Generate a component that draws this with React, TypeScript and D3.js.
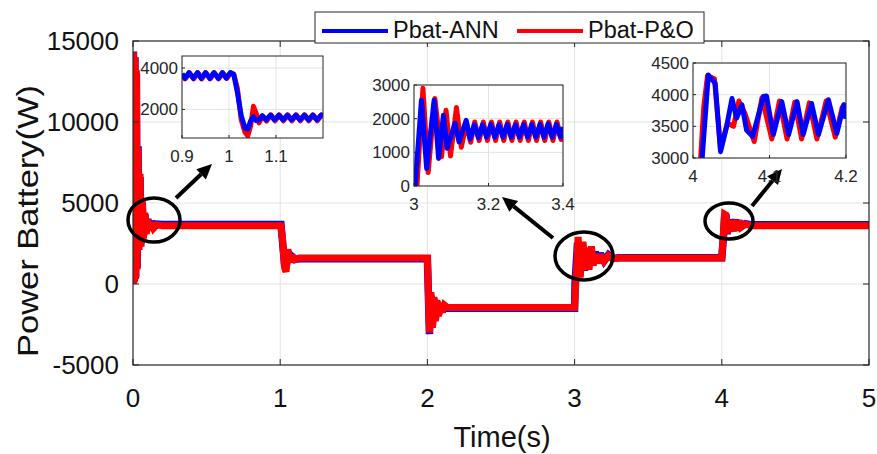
import React from 'react';
import * as d3 from 'd3';

type Pt = [number, number];

// ---------- data ----------
const xTicks = [0, 1, 2, 3, 4, 5];
const yTicks = [-5000, 0, 5000, 10000, 15000];
const seriesNames = ['Pbat-ANN', 'Pbat-P&O'];

const mainPO: Pt[] = [
  [0, 0], [0.003, 14300], [0.008, 100], [0.013, 14000], [0.018, 300], [0.023, 13200], [0.028, 900],
  [0.034, 8400], [0.041, 2100], [0.048, 6800], [0.055, 2300], [0.063, 5200], [0.071, 2800], [0.08, 4400],
  [0.09, 3100], [0.1, 4000], [0.112, 3300], [0.125, 3800], [0.14, 3450], [0.16, 3650], [0.2, 3600],
  [1.005, 3600], [1.015, 2800], [1.03, 1000], [1.04, 750], [1.052, 2150], [1.064, 1350], [1.08, 1750],
  [1.1, 1500], [1.13, 1600], [2.0, 1600], [2.006, -300], [2.014, -3000], [2.024, -500], [2.034, -2700],
  [2.044, -800], [2.054, -2300], [2.064, -1000], [2.075, -2000], [2.087, -1150], [2.1, -1750], [2.115, -1300],
  [2.135, -1450], [3.0, -1450], [3.008, 0], [3.024, 2900], [3.038, 400], [3.056, 2600], [3.074, 870],
  [3.086, 2250], [3.098, 890], [3.114, 2330], [3.127, 1150], [3.14, 1850], [3.155, 1300], [3.175, 1800],
  [3.2, 1400], [3.23, 1750], [3.26, 1550], [3.3, 1600], [4.0, 1600], [4.01, 3000], [4.019, 4300],
  [4.028, 4250], [4.036, 3150], [4.06, 3900], [4.08, 3260], [4.09, 3950], [4.103, 3300], [4.113, 3900],
  [4.13, 3500], [4.16, 3700], [4.2, 3600], [5.0, 3600],
];

const mainANN: Pt[] = [
  [0, 0], [0.003, 14350], [0.008, 150], [0.013, 14000], [0.018, 400], [0.023, 13000], [0.028, 1000],
  [0.034, 8500], [0.041, 2300], [0.048, 6600], [0.055, 2500], [0.063, 5000], [0.071, 3000], [0.08, 4300],
  [0.09, 3300], [0.1, 4000], [0.112, 3400], [0.125, 3850], [0.14, 3550], [0.16, 3700], [0.2, 3680],
  [1.005, 3680], [1.015, 2700], [1.03, 1200], [1.04, 1050], [1.052, 1650], [1.064, 1450], [1.08, 1700],
  [1.1, 1520], [1.13, 1560], [2.0, 1560], [2.006, -400], [2.014, -3100], [2.024, -700], [2.034, -2600],
  [2.044, -900], [2.054, -2200], [2.064, -1100], [2.075, -1900], [2.087, -1250], [2.1, -1700], [2.115, -1400],
  [2.135, -1500], [3.0, -1500], [3.003, 0], [3.02, 2550], [3.034, 520], [3.054, 2550], [3.066, 820],
  [3.079, 2100], [3.089, 1120], [3.11, 1860], [3.121, 1310], [3.14, 2000], [3.151, 1350], [3.175, 1870],
  [3.2, 1420], [3.23, 1800], [3.26, 1580], [3.3, 1620], [4.0, 1620], [4.012, 3000], [4.02, 4310],
  [4.029, 4180], [4.036, 3100], [4.051, 3940], [4.078, 3340], [4.094, 3980], [4.105, 3370], [4.116, 3890],
  [4.13, 3550], [4.16, 3720], [4.2, 3650], [5.0, 3650],
];

const inset1ANN: Pt[] = [
  [0.9, 3720], [0.906, 3500], [0.915, 3780], [0.924, 3500], [0.933, 3780], [0.941, 3500], [0.95, 3780],
  [0.959, 3500], [0.968, 3780], [0.977, 3500], [0.986, 3780], [0.994, 3520], [1.003, 3780], [1.01, 3700],
  [1.018, 2800], [1.026, 1700], [1.034, 1100], [1.04, 1050], [1.046, 1450], [1.052, 1650], [1.058, 1450],
  [1.064, 1500], [1.071, 1700], [1.079, 1500], [1.088, 1720], [1.097, 1500], [1.106, 1720], [1.115, 1500],
  [1.124, 1720], [1.133, 1500], [1.142, 1720], [1.151, 1500], [1.16, 1720], [1.169, 1500], [1.178, 1720],
  [1.187, 1500], [1.196, 1720], [1.2, 1650],
];
const inset1PO: Pt[] = [
  [0.9, 3700], [0.907, 3480], [0.916, 3760], [0.925, 3480], [0.934, 3760], [0.942, 3480], [0.951, 3760],
  [0.96, 3480], [0.969, 3760], [0.978, 3480], [0.987, 3760], [0.995, 3500], [1.004, 3760], [1.01, 3700],
  [1.018, 3000], [1.026, 1500], [1.034, 900], [1.04, 720], [1.046, 1200], [1.052, 2150], [1.058, 1800],
  [1.064, 1350], [1.071, 1650], [1.08, 1440], [1.089, 1740], [1.098, 1450], [1.107, 1740], [1.116, 1450],
  [1.125, 1740], [1.134, 1450], [1.143, 1740], [1.152, 1450], [1.161, 1740], [1.17, 1450], [1.179, 1740],
  [1.188, 1450], [1.197, 1740], [1.2, 1680],
];

const inset2ANN: Pt[] = [
  [2.995, -1450], [3.003, 0], [3.02, 2550], [3.034, 520], [3.054, 2550], [3.066, 820], [3.079, 2100],
  [3.089, 1120], [3.11, 1860], [3.121, 1310], [3.14, 1950], [3.151, 1400], [3.162, 1820], [3.173, 1430],
  [3.184, 1820], [3.195, 1450], [3.206, 1830], [3.217, 1450], [3.228, 1820], [3.239, 1450], [3.25, 1830],
  [3.261, 1450], [3.272, 1820], [3.283, 1450], [3.294, 1830], [3.305, 1450], [3.316, 1830], [3.327, 1450],
  [3.338, 1830], [3.349, 1450], [3.36, 1850], [3.371, 1450], [3.382, 1830], [3.393, 1460], [3.4, 1750],
];
const inset2PO: Pt[] = [
  [2.995, -1450], [3.008, 0], [3.024, 2900], [3.038, 400], [3.056, 2600], [3.074, 870], [3.086, 2250],
  [3.098, 890], [3.114, 2330], [3.127, 1150], [3.14, 1850], [3.152, 1300], [3.163, 1900], [3.175, 1350],
  [3.186, 1900], [3.197, 1350], [3.208, 1900], [3.219, 1350], [3.23, 1900], [3.241, 1350], [3.252, 1900],
  [3.263, 1350], [3.274, 1900], [3.285, 1350], [3.296, 1900], [3.307, 1350], [3.318, 1900], [3.329, 1350],
  [3.34, 1900], [3.351, 1350], [3.362, 1900], [3.373, 1350], [3.384, 1900], [3.395, 1380], [3.4, 1720],
];

const inset3ANN: Pt[] = [
  [3.995, 1600], [4.012, 3000], [4.02, 4310], [4.029, 4180], [4.036, 3100], [4.044, 3500], [4.051, 3940],
  [4.057, 3630], [4.064, 3840], [4.07, 3440], [4.078, 3340], [4.092, 3970], [4.096, 3980], [4.105, 3370],
  [4.116, 3890], [4.125, 3370], [4.136, 3890], [4.144, 3370], [4.155, 3860], [4.164, 3370], [4.177, 3920],
  [4.188, 3390], [4.197, 3840], [4.2, 3620],
];
const inset3PO: Pt[] = [
  [3.995, 1600], [4.01, 3000], [4.014, 3800], [4.019, 4300], [4.028, 4250], [4.036, 3150], [4.045, 3550],
  [4.053, 3500], [4.06, 3900], [4.068, 3700], [4.08, 3260], [4.09, 3950], [4.103, 3300], [4.113, 3900],
  [4.123, 3300], [4.133, 3880], [4.142, 3300], [4.152, 3870], [4.162, 3300], [4.174, 3900], [4.186, 3330],
  [4.195, 3800], [4.2, 3850],
];

const inset1XTicks = [0.9, 1, 1.1];
const inset1YTicks = [2000, 4000];
const inset2XTicks = [3, 3.2, 3.4];
const inset2YTicks = [0, 1000, 2000, 3000];
const inset3XTicks = [4, 4.1, 4.2];
const inset3YTicks = [3000, 3500, 4000, 4500];

// ---------- layout ----------
const FONT = '"Liberation Sans", Arial, Helvetica, sans-serif';
const BLUE = '#0000ff';
const RED = '#ff0000';
const AXIS = '#262626';
const GRID = '#e3e3e3';

const plot = { x0: 133, x1: 869, y0: 41, y1: 365 };

interface InsetSpec {
  id: string;
  box: { x0: number; x1: number; y0: number; y1: number };
  xDomain: [number, number];
  yDomain: [number, number];
  xTicks: number[];
  yTicks: number[];
  ann: Pt[];
  po: Pt[];
}

const insets: InsetSpec[] = [
  { id: 'i1', box: { x0: 182, x1: 323, y0: 56, y1: 138 }, xDomain: [0.9, 1.2], yDomain: [620, 4580],
    xTicks: inset1XTicks, yTicks: inset1YTicks, ann: inset1ANN, po: inset1PO },
  { id: 'i2', box: { x0: 414, x1: 563, y0: 85, y1: 186 }, xDomain: [3, 3.4], yDomain: [0, 3000],
    xTicks: inset2XTicks, yTicks: inset2YTicks, ann: inset2ANN, po: inset2PO },
  { id: 'i3', box: { x0: 693, x1: 846, y0: 63, y1: 158 }, xDomain: [4, 4.2], yDomain: [3000, 4500],
    xTicks: inset3XTicks, yTicks: inset3YTicks, ann: inset3ANN, po: inset3PO },
];

const ellipses = [
  { cx: 154, cy: 220, rx: 26, ry: 22 },
  { cx: 584, cy: 256, rx: 29, ry: 24 },
  { cx: 729, cy: 221, rx: 24, ry: 18 },
];
const arrows = [
  { x1: 176, y1: 198, x2: 212, y2: 164 },
  { x1: 553, y1: 238, x2: 502, y2: 197 },
  { x1: 752, y1: 206, x2: 782, y2: 169 },
];

function Arrow({ x1, y1, x2, y2 }: { x1: number; y1: number; x2: number; y2: number }) {
  const ang = Math.atan2(y2 - y1, x2 - x1);
  const L = 15, Wd = 7;
  const bx = x2 - L * Math.cos(ang), by = y2 - L * Math.sin(ang);
  const px = -Math.sin(ang) * Wd, py = Math.cos(ang) * Wd;
  return (
    <g>
      <line x1={x1} y1={y1} x2={bx} y2={by} stroke="#000" strokeWidth={4} />
      <path d={`M${x2},${y2} L${bx + px},${by + py} L${bx - px},${by - py} Z`} fill="#000" />
    </g>
  );
}

function Inset({ s }: { s: InsetSpec }) {
  const { box } = s;
  const x = d3.scaleLinear().domain(s.xDomain).range([box.x0, box.x1]);
  const y = d3.scaleLinear().domain(s.yDomain).range([box.y1, box.y0]);
  const line = d3.line<Pt>().x(d => x(d[0])).y(d => y(d[1]));
  const fmtX = (v: number) => String(+v.toFixed(2));
  return (
    <g>
      <defs>
        <clipPath id={`clip-${s.id}`}>
          <rect x={box.x0} y={box.y0} width={box.x1 - box.x0} height={box.y1 - box.y0} />
        </clipPath>
      </defs>
      <rect x={box.x0} y={box.y0} width={box.x1 - box.x0} height={box.y1 - box.y0} fill="#fff" />
      {s.xTicks.map(t => (
        <line key={'gx' + t} x1={x(t)} x2={x(t)} y1={box.y0} y2={box.y1} stroke={GRID} strokeWidth={1} />
      ))}
      {s.yTicks.map(t => (
        <line key={'gy' + t} x1={box.x0} x2={box.x1} y1={y(t)} y2={y(t)} stroke={GRID} strokeWidth={1} />
      ))}
      <g clipPath={`url(#clip-${s.id})`}>
        <path d={line(s.po) || ''} fill="none" stroke={RED} strokeWidth={5} strokeLinejoin="round" />
        <path d={line(s.ann) || ''} fill="none" stroke={BLUE} strokeWidth={5} strokeLinejoin="round" />
      </g>
      {s.xTicks.map(t => (
        <line key={'tx' + t} x1={x(t)} x2={x(t)} y1={box.y1} y2={box.y1 - 3} stroke={AXIS} />
      ))}
      {s.yTicks.map(t => (
        <line key={'ty' + t} x1={box.x0} x2={box.x0 + 3} y1={y(t)} y2={y(t)} stroke={AXIS} />
      ))}
      <rect x={box.x0} y={box.y0} width={box.x1 - box.x0} height={box.y1 - box.y0} fill="none" stroke={AXIS} strokeWidth={1} />
      {s.xTicks.map(t => (
        <text key={'lx' + t} x={x(t)} y={box.y1 + 24} textAnchor="middle" fontSize={17} fill={AXIS} fontFamily={FONT}>
          {fmtX(t)}
        </text>
      ))}
      {s.yTicks.map(t => (
        <text key={'ly' + t} x={box.x0 - 4} y={y(t) + 6} textAnchor="end" fontSize={17} fill={AXIS} fontFamily={FONT}>
          {t}
        </text>
      ))}
    </g>
  );
}

export default function App() {
  const x = d3.scaleLinear().domain([0, 5]).range([plot.x0, plot.x1]);
  const y = d3.scaleLinear().domain([-5000, 15000]).range([plot.y1, plot.y0]);
  const line = d3.line<Pt>().x(d => x(d[0])).y(d => y(d[1]));

  return (
    <svg width={877} height={454} style={{ position: 'absolute', left: 0, top: 0, background: '#fff' }}
      fontFamily={FONT}>
      <rect x={0} y={0} width={877} height={454} fill="#fff" />
      <defs>
        <clipPath id="clip-main">
          <rect x={plot.x0} y={plot.y0} width={plot.x1 - plot.x0} height={plot.y1 - plot.y0} />
        </clipPath>
      </defs>
      {xTicks.slice(1, -1).map(t => (
        <line key={'gx' + t} x1={x(t)} x2={x(t)} y1={plot.y0} y2={plot.y1} stroke={GRID} />
      ))}
      {yTicks.slice(1, -1).map(t => (
        <line key={'gy' + t} x1={plot.x0} x2={plot.x1} y1={y(t)} y2={y(t)} stroke={GRID} />
      ))}
      <g clipPath="url(#clip-main)">
        <path d={line(mainANN) || ''} fill="none" stroke={BLUE} strokeWidth={7.5} strokeLinejoin="miter" strokeMiterlimit={2} />
        <path d={line(mainPO) || ''} fill="none" stroke={RED} strokeWidth={7} strokeLinejoin="miter" strokeMiterlimit={2} />
      </g>
      {xTicks.map(t => (
        <g key={'tx' + t}>
          <line x1={x(t)} x2={x(t)} y1={plot.y1} y2={plot.y1 - 6} stroke={AXIS} />
          <line x1={x(t)} x2={x(t)} y1={plot.y0} y2={plot.y0 + 6} stroke={AXIS} />
        </g>
      ))}
      {yTicks.map(t => (
        <g key={'ty' + t}>
          <line x1={plot.x0} x2={plot.x0 + 6} y1={y(t)} y2={y(t)} stroke={AXIS} />
          <line x1={plot.x1} x2={plot.x1 - 6} y1={y(t)} y2={y(t)} stroke={AXIS} />
        </g>
      ))}
      <rect x={plot.x0} y={plot.y0} width={plot.x1 - plot.x0} height={plot.y1 - plot.y0} fill="none" stroke={AXIS} strokeWidth={1.2} />

      {xTicks.map(t => (
        <text key={'lx' + t} x={x(t)} y={plot.y1 + 42} textAnchor="middle" fontSize={26} fill="#111">{t}</text>
      ))}
      {yTicks.map(t => (
        <text key={'ly' + t} x={plot.x0 - 14} y={y(t) + 9} textAnchor="end" fontSize={26} fill="#111">{t}</text>
      ))}
      <text x={502} y={447} textAnchor="middle" fontSize={29} fill="#111">Time(s)</text>
      <text transform="translate(38,221) scale(1,1.15) rotate(-90)" textAnchor="middle" fontSize={30} fill="#111">
        Power Battery(W)
      </text>

      {ellipses.map((e, i) => (
        <ellipse key={'e' + i} cx={e.cx} cy={e.cy} rx={e.rx} ry={e.ry} fill="none" stroke="#000" strokeWidth={3.5} />
      ))}
      {arrows.map((a, i) => <Arrow key={'a' + i} {...a} />)}

      {insets.map(s => <Inset key={s.id} s={s} />)}

      <g>
        <rect x={315} y={12} width={389} height={31} fill="#fff" stroke={AXIS} strokeWidth={1} />
        <line x1={322} x2={388} y1={31} y2={31} stroke={BLUE} strokeWidth={4} />
        <text x={393} y={38} fontSize={23.5} fill="#111">{seriesNames[0]}</text>
        <line x1={517} x2={583} y1={31} y2={31} stroke={RED} strokeWidth={4} />
        <text x={588} y={38} fontSize={23.5} fill="#111">{seriesNames[1]}</text>
      </g>
    </svg>
  );
}
